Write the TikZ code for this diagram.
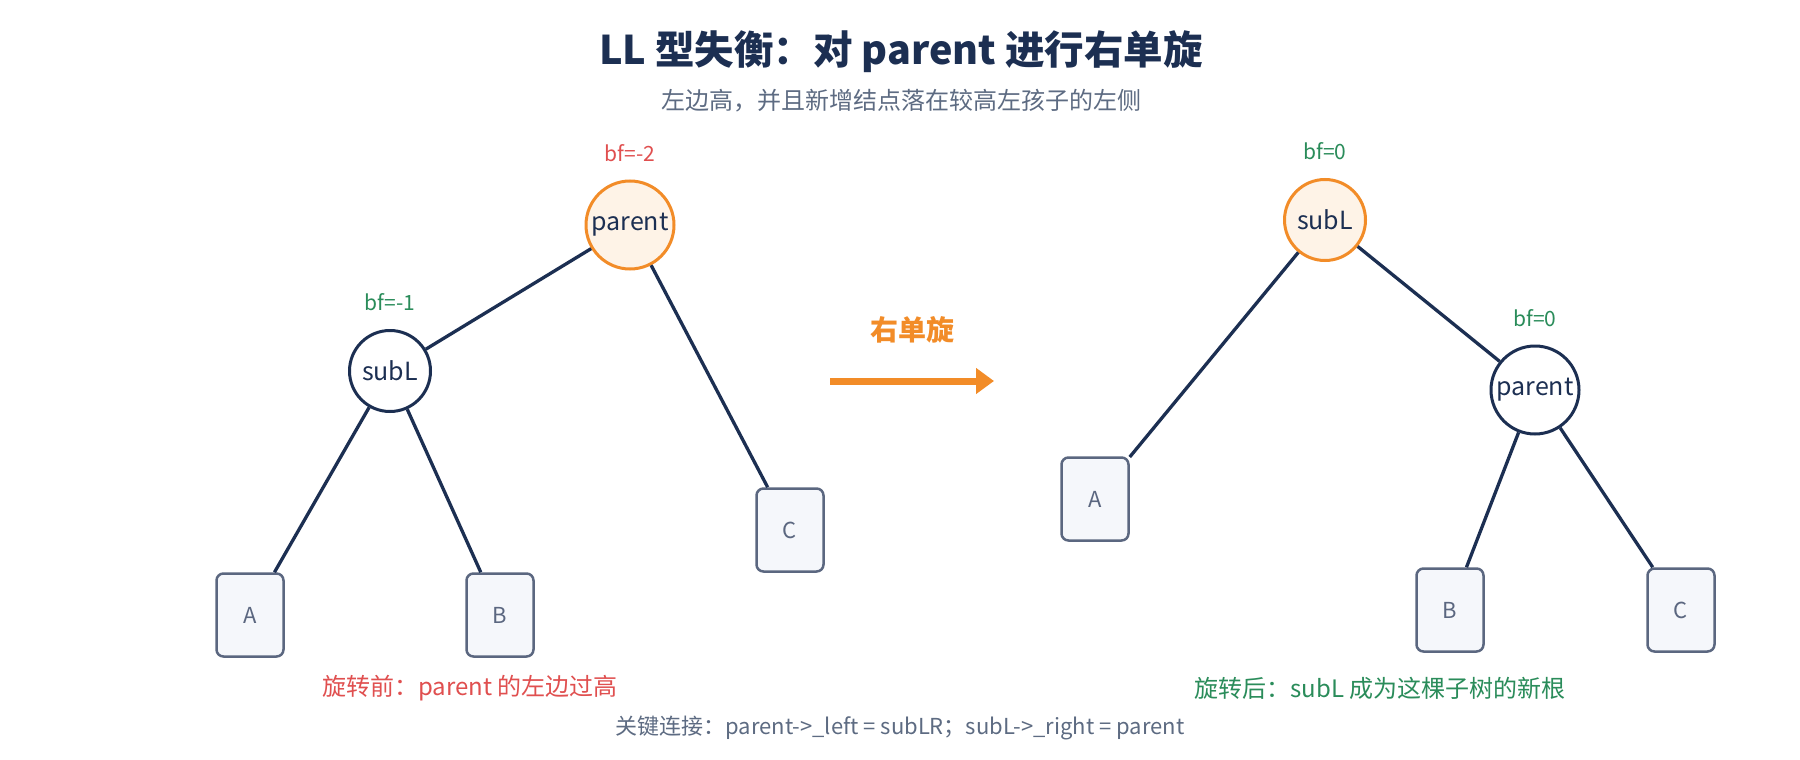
\documentclass[tikz,border=0pt]{standalone}
\usepackage{fontspec}
\setmainfont{Noto Sans CJK SC}
\usetikzlibrary{positioning}
\usetikzlibrary{arrows.meta}
\definecolor{navy}{HTML}{1C2F52}
\definecolor{hotorange}{HTML}{F28C28}
\definecolor{hotbg}{HTML}{FEF3E7}
\definecolor{slate}{HTML}{5B6780}
\definecolor{boxbg}{HTML}{F5F7FB}
\definecolor{badred}{HTML}{E04F4F}
\definecolor{okgreen}{HTML}{2A8C5A}
\definecolor{notegrey}{HTML}{5D6B82}
\tikzstyle{treenode} = [draw=navy, fill=white, circle, line width=3pt, minimum size=81pt, inner sep=0pt, text=navy, font=\fontsize{25}{30}\selectfont]
\tikzstyle{hotnode} = [draw=hotorange, fill=hotbg]
\tikzstyle{widenode} = [minimum size=88pt]
\tikzstyle{subtree} = [draw=slate, fill=boxbg, rectangle, rounded corners=7pt, line width=2.5pt, minimum width=67pt, minimum height=83pt, text=slate, font=\fontsize{22}{26}\selectfont]
\tikzstyle{link} = [draw=navy, line width=3.3pt]
\tikzstyle{bfok} = [text=okgreen, inner sep=0pt, font=\fontsize{21}{25}\selectfont]
\tikzstyle{bfbad} = [bfok, text=badred]
\tikzstyle{caption} = [inner sep=0pt, font=\fontsize{24}{29}\selectfont]

\begin{document}
\begin{tikzpicture}[x=1pt, y=-1pt]
  \fill[white] (0,0) rectangle (1800,760);
  \useasboundingbox (0,0) rectangle (1800,760);

  \node[text=navy, font=\fontsize{39.5}{47}\selectfont\bfseries] (title) at (901,52) {LL 型失衡：对 parent 进行右单旋};
  \node[text=notegrey, font=\fontsize{24}{29}\selectfont] (subtitle) at (901,101) {左边高，并且新增结点落在较高左孩子的左侧};

  \node[treenode, hotnode, widenode] (p1) at (630,225) {parent};
  \node[treenode] (s1) at (390,371) {subL};
  \node[subtree] (a1) at (250,615) {A};
  \node[subtree] (b1) at (500,615) {B};
  \node[subtree] (c1) at (790,530) {C};
  \node[bfbad, above=18pt of p1] (p1bf) {bf=-2};
  \node[bfok, above=18pt of s1] (s1bf) {bf=-1};

  \draw[link] (p1) -- (s1);
  \draw[link] (p1) -- (c1);
  \draw[link] (s1) -- (a1);
  \draw[link] (s1) -- (b1);

  \coordinate (rotfrom) at (830,381);
  \coordinate (rotto) at (994,381);
  \draw[hotorange, line width=7pt, -{Triangle[length=18pt, width=25pt]}] (rotfrom) -- (rotto);
  \node[text=hotorange, font=\fontsize{28}{33}\selectfont\bfseries] (rottext) at (912,330) {右单旋};

  \node[treenode, hotnode] (s2) at (1325,220) {subL};
  \node[treenode, widenode] (p2) at (1535,390) {parent};
  \node[subtree] (a2) at (1095,499) {A};
  \node[subtree] (b2) at (1450,610) {B};
  \node[subtree] (c2) at (1681,610) {C};
  \node[bfok, above=18pt of s2] (s2bf) {bf=0};
  \node[bfok, above=18pt of p2] (p2bf) {bf=0};

  \draw[link] (s2) -- (a2);
  \draw[link] (s2) -- (p2);
  \draw[link] (p2) -- (b2);
  \draw[link] (p2) -- (c2);

  \node[caption, text=badred] (before) at (470,688) {旋转前：parent 的左边过高};
  \node[caption, text=okgreen] (after) at (1380,688) {旋转后：subL 成为这棵子树的新根};
  \node[caption, text=notegrey, font=\fontsize{22}{27}\selectfont] (keynote) at (900,728) {关键连接：parent->\_left = subLR；subL->\_right = parent};
\end{tikzpicture}
\end{document}
